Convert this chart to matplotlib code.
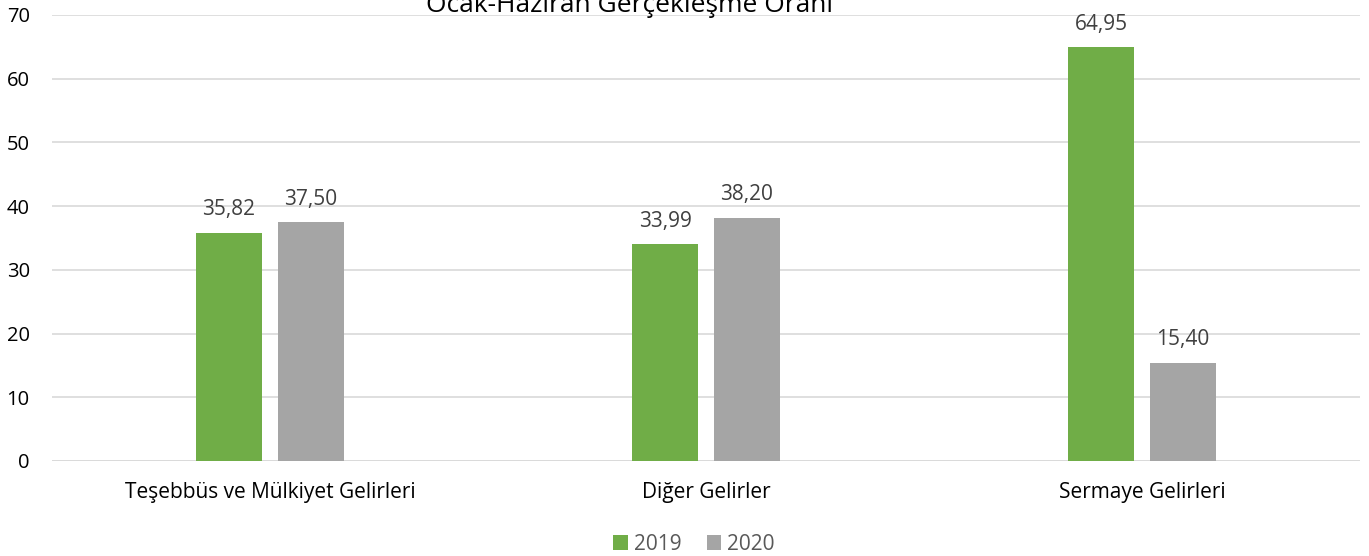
import matplotlib
matplotlib.use("Agg")
import matplotlib.pyplot as plt
import numpy as np

categories = ["Teşebbüs ve Mülkiyet Gelirleri", "Diğer Gelirler", "Sermaye Gelirleri"]
series_names = ["2019", "2020"]
values_2019 = [35.82, 33.99, 64.95]
values_2020 = [37.50, 38.20, 15.40]
yticks = [0, 10, 20, 30, 40, 50, 60, 70]
title = "Ocak-Haziran Gerçekleşme Oranı"

plt.rcParams['font.family'] = ['Open Sans', 'DejaVu Sans']
fig = plt.figure(figsize=(13.69, 5.56), dpi=100)
ax = fig.add_axes([52/1369, 1 - 461/556, (1360-52)/1369, (461-15)/556])

x = np.arange(len(categories))
w = 0.151
off = 0.094
colors = ["#70AD47", "#A5A5A5"]
b1 = ax.bar(x - off, values_2019, w, color=colors[0], label=series_names[0], zorder=3)
b2 = ax.bar(x + off, values_2020, w, color=colors[1], label=series_names[1], zorder=3)
for bars, vals in ((b1, values_2019), (b2, values_2020)):
    for b, v in zip(bars, vals):
        ax.annotate(f"{v:.2f}".replace(".", ","), (b.get_x() + b.get_width()/2, v),
                    xytext=(0, 9), textcoords="offset points", ha="center", va="bottom",
                    fontsize=15, color="#404040")

ax.set_xlim(-0.5, 2.5)
ax.set_ylim(0, 70)
ax.set_yticks(yticks)
ax.set_xticks(x)
ax.set_xticklabels(categories, fontsize=15, color="#000000")
ax.tick_params(axis='y', labelsize=14.5, colors="#000000", length=0, pad=16)
ax.tick_params(axis='x', length=0, pad=15)
ax.grid(axis='y', color="#D9D9D9", linewidth=1.2, zorder=0)
for s in ax.spines.values():
    s.set_visible(False)
ax.axhline(0, color="#D9D9D9", linewidth=1.2, zorder=1)

fig.text(629/1369, 1 - 6/556, title, ha="center", va="center", fontsize=19, color="#000000")
fig.legend(handles=[b1, b2], labels=series_names, loc="center", bbox_to_anchor=(694/1369, 1 - 544/556),
           ncol=2, frameon=False, fontsize=15, handlelength=0.7, handleheight=0.7,
           handletextpad=0.3, columnspacing=1.2, labelcolor="#595959", borderpad=0.1)

fig.savefig("out.png", dpi=100)
